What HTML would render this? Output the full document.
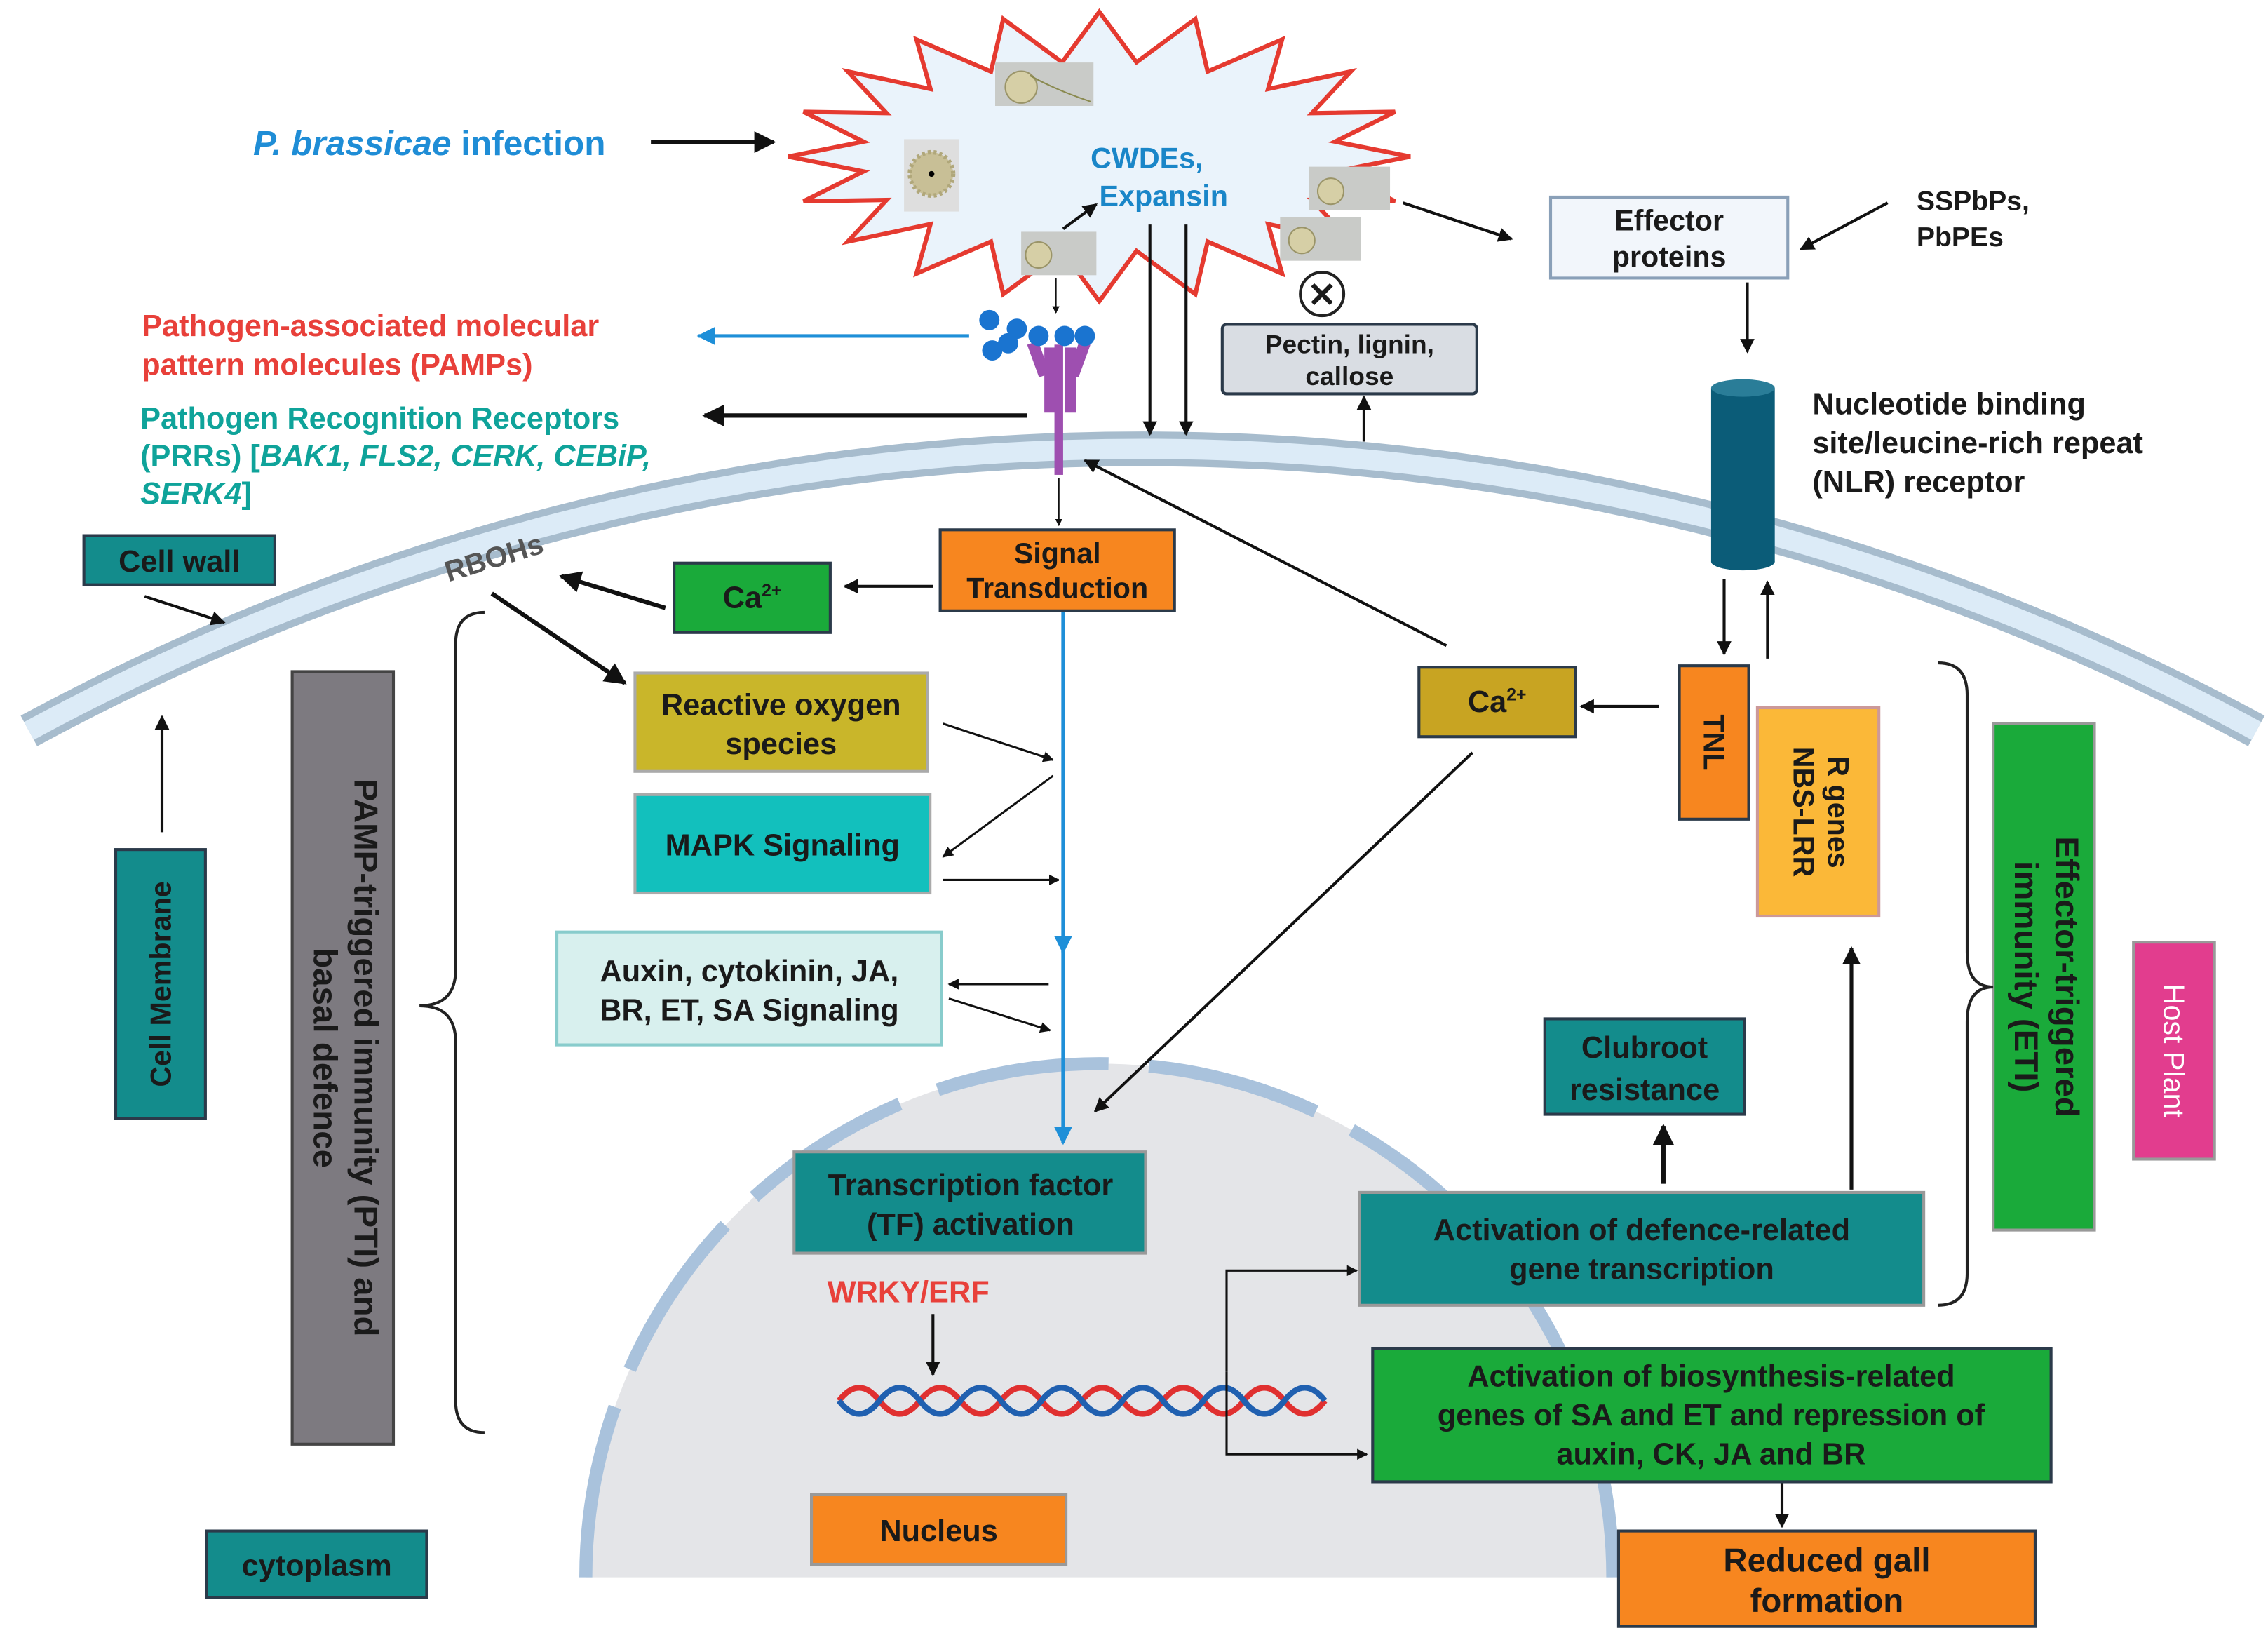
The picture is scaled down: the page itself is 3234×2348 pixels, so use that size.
<!DOCTYPE html>
<html><head><meta charset="utf-8"><style>
html,body{margin:0;padding:0;background:#fff}
svg{display:block}
text{font-family:"Liberation Sans",sans-serif;font-weight:bold;fill:#1a1a1a}
</style></head><body>
<svg width="3234" height="2348" viewBox="0 0 1568 1138" xmlns="http://www.w3.org/2000/svg">
<defs>
<marker id="a" viewBox="0 0 10 10" refX="9" refY="5" markerWidth="5" markerHeight="5" orient="auto"><path d="M0,0L10,5L0,10z" fill="#111"/></marker>
<marker id="b" viewBox="0 0 10 10" refX="9" refY="5" markerWidth="5" markerHeight="5" orient="auto"><path d="M0,0L10,5L0,10z" fill="#1e8fd8"/></marker>
</defs>
<rect width="1568" height="1138" fill="#fff"/>
<!-- nucleus -->
<path d="M405,1090 A355,355 0 0 1 1115,1090 Z" fill="#e4e5e8"/>
<path d="M405,1090 A355,355 0 0 1 1115,1090" fill="none" stroke="#a9c2dc" stroke-width="9" stroke-dasharray="120,28"/>
<!-- cell wall / membrane -->
<path d="M20,505 A1618,1618 0 0 1 1560,505" fill="none" stroke="#a7bccd" stroke-width="24"/>
<path d="M20,505 A1618,1618 0 0 1 1560,505" fill="none" stroke="#dcebf7" stroke-width="14"/>
<!-- starburst -->
<polygon points="760,8 785.7,42.8 826.4,12.9 834.9,49.2 886.4,27.1 876.7,61.3 933.9,49.2 907,78 964.5,77.1 923,97.7 975,108 923,118.3 964.5,138.9 907,138 933.9,166.8 876.7,154.7 886.4,188.9 834.9,166.8 826.4,203.1 785.7,173.2 760,208 734.3,173.2 693.6,203.1 685.1,166.8 633.6,188.9 643.3,154.7 586.1,166.8 613,138 555.5,138.9 597,118.3 545,108 597,97.7 555.5,77.1 613,78 586.1,49.2 643.3,61.3 633.6,27.1 685.1,49.2 693.6,12.9 734.3,42.8" fill="#eaf3fb" stroke="#e53a30" stroke-width="3" stroke-linejoin="miter"/>
<g>
<rect x="688" y="43" width="68" height="30" fill="#c9cbc8"/><circle cx="706" cy="60" r="11" fill="#d6cfa6" stroke="#9a9468"/><path d="M712,52 Q730,62 754,70" stroke="#8a8a50" fill="none"/>
<rect x="625" y="96" width="38" height="50" fill="#dedede"/><circle cx="644" cy="120" r="15" fill="#c8bf96" stroke="#b0a77a" stroke-dasharray="2,2" stroke-width="3"/><circle cx="644" cy="120" r="2" fill="#000"/>
<rect x="706" y="160" width="52" height="30" fill="#c9cbc8"/><circle cx="718" cy="176" r="9" fill="#d6cfa6" stroke="#9a9468"/>
<rect x="905" y="115" width="56" height="30" fill="#c9cbc8"/><circle cx="920" cy="132" r="9" fill="#d6cfa6" stroke="#9a9468"/>
<rect x="885" y="150" width="56" height="30" fill="#c9cbc8"/><circle cx="900" cy="166" r="9" fill="#d6cfa6" stroke="#9a9468"/>
</g>
<text x="754" y="116" font-size="20" style="fill:#1a86c8">CWDEs,</text>
<text x="760" y="142" font-size="20" style="fill:#1a86c8">Expansin</text>
<circle cx="914" cy="203" r="15" fill="#fff" stroke="#222" stroke-width="2"/><text x="914" y="212" font-size="24" text-anchor="middle">✕</text>
<!-- receptor -->
<g fill="#9e4fb0"><rect x="729" y="238" width="6" height="90"/><rect x="722" y="240" width="8" height="45"/><rect x="736" y="240" width="8" height="45"/><rect x="714" y="236" width="8" height="24" transform="rotate(-20 718 248)"/><rect x="742" y="236" width="8" height="24" transform="rotate(20 746 248)"/></g>
<g fill="#1a74d0"><circle cx="684" cy="221" r="7"/><circle cx="703" cy="227" r="7"/><circle cx="697" cy="237" r="7"/><circle cx="686" cy="242" r="7"/><circle cx="718" cy="232" r="7"/><circle cx="736" cy="232" r="7"/><circle cx="750" cy="232" r="7"/></g>
<!-- NLR -->
<rect x="1183" y="268" width="44" height="120" fill="#0b5c78"/><ellipse cx="1205" cy="268" rx="22" ry="6" fill="#2a7d98"/><ellipse cx="1205" cy="388" rx="22" ry="6" fill="#0b5c78"/>
<!-- texts -->
<text x="175" y="107" font-size="24" style="fill:#1f8dd6"><tspan font-style="italic">P. brassicae</tspan> infection</text>
<text x="98" y="232" font-size="21" style="fill:#e8403a">Pathogen-associated molecular</text>
<text x="98" y="259" font-size="21" style="fill:#e8403a">pattern molecules (PAMPs)</text>
<text x="97" y="296" font-size="21" style="fill:#0fa39a">Pathogen Recognition Receptors</text>
<text x="97" y="322" font-size="21" style="fill:#0fa39a">(PRRs)  [<tspan font-style="italic">BAK1, FLS2, CERK,  CEBiP,</tspan></text>
<text x="97" y="348" font-size="21" style="fill:#0fa39a" font-style="italic">SERK4<tspan font-style="normal">]</tspan></text>
<text x="1325" y="145" font-size="19">SSPbPs,</text><text x="1325" y="170" font-size="19">PbPEs</text>
<text x="1253" y="286" font-size="21">Nucleotide binding</text><text x="1253" y="313" font-size="21">site/leucine-rich repeat</text><text x="1253" y="340" font-size="21">(NLR) receptor</text>
<text x="310" y="402" font-size="20" style="fill:#555" transform="rotate(-17 310 402)">RBOHs</text>
<text x="572" y="900" font-size="21" style="fill:#e8403a">WRKY/ERF</text>
<!-- boxes -->
<g stroke="#2b3a4a" stroke-width="2">
<rect x="1072" y="136" width="164" height="56" fill="#f2f6fb" stroke="#8aa0b8"/>
<rect x="845" y="224" width="176" height="48" fill="#d9dde3" rx="3"/>
<rect x="58" y="370" width="132" height="34" fill="#138c8c"/>
<rect x="466" y="389" width="108" height="48" fill="#1aaa3a"/>
<rect x="650" y="366" width="162" height="56" fill="#f7861f"/>
<rect x="981" y="461" width="108" height="48" fill="#c8a422"/>
<rect x="1161" y="460" width="48" height="106" fill="#f7861f"/>
<rect x="1215" y="489" width="84" height="144" fill="#fbb838" stroke="#c99"/>
<rect x="439" y="465" width="202" height="68" fill="#c9b62a" stroke="#aaa"/>
<rect x="439" y="549" width="204" height="68" fill="#12c0bd" stroke="#aaa"/>
<rect x="385" y="644" width="266" height="78" fill="#d8f0ee" stroke="#8cc"/>
<rect x="202" y="464" width="70" height="534" fill="#7d7a80" stroke="#444"/>
<rect x="80" y="587" width="62" height="186" fill="#138c8c"/>
<rect x="1378" y="500" width="70" height="350" fill="#1aaa3a" stroke="#999"/>
<rect x="1475" y="651" width="56" height="150" fill="#e23d8e" stroke="#999"/>
<rect x="1068" y="704" width="138" height="66" fill="#138c8c"/>
<rect x="549" y="796" width="243" height="70" fill="#138c8c" stroke="#999"/>
<rect x="940" y="824" width="390" height="78" fill="#138c8c" stroke="#999"/>
<rect x="949" y="932" width="469" height="92" fill="#1aaa3a"/>
<rect x="561" y="1033" width="176" height="48" fill="#f7861f" stroke="#999"/>
<rect x="1119" y="1058" width="288" height="66" fill="#f7861f"/>
<rect x="143" y="1058" width="152" height="46" fill="#138c8c"/>
</g>
<g font-size="21" text-anchor="middle">
<text x="1154" y="159" font-size="20">Effector</text><text x="1154" y="184" font-size="20">proteins</text>
<text x="933" y="244" font-size="18">Pectin, lignin,</text><text x="933" y="266" font-size="18">callose</text>
<text x="124" y="395">Cell wall</text>
<text x="520" y="420">Ca<tspan font-size="12" dy="-8">2+</tspan></text>
<text x="731" y="389" font-size="20">Signal</text><text x="731" y="413" font-size="20">Transduction</text>
<text x="1035" y="492">Ca<tspan font-size="12" dy="-8">2+</tspan></text>
<text x="540" y="494">Reactive oxygen</text><text x="540" y="521">species</text>
<text x="541" y="591">MAPK Signaling</text>
<text x="518" y="678">Auxin, cytokinin, JA,</text><text x="518" y="705">BR, ET, SA Signaling</text>
<text x="1137" y="731">Clubroot</text><text x="1137" y="760">resistance</text>
<text x="671" y="826">Transcription factor</text><text x="671" y="853">(TF)  activation</text>
<text x="1135" y="857">Activation of defence-related</text><text x="1135" y="884">gene transcription</text>
<text x="1183" y="958">Activation of biosynthesis-related</text><text x="1183" y="985">genes of SA and ET and repression of</text><text x="1183" y="1012">auxin, CK, JA and BR</text>
<text x="649" y="1065">Nucleus</text>
<text x="1263" y="1086" font-size="23">Reduced gall</text><text x="1263" y="1114" font-size="23">formation</text>
<text x="219" y="1089">cytoplasm</text>
<text transform="translate(1178,513) rotate(90)" x="0" y="0" font-size="20" text-anchor="middle">TNL</text>
<text transform="translate(1262,561) rotate(90)" font-size="20"><tspan x="0" y="-2">R genes</tspan><tspan x="0" y="22">NBS-LRR</tspan></text>
<text transform="translate(237,731) rotate(90)" font-size="23"><tspan x="0" y="-8">PAMP-triggered immunity (PTI) and</tspan><tspan x="0" y="20">basal defence</tspan></text>
<text transform="translate(111,680) rotate(-90)" font-size="20" y="7">Cell Membrane</text>
<text transform="translate(1413,675) rotate(90)" font-size="23"><tspan x="0" y="-8">Effector-triggered</tspan><tspan x="0" y="20">immunity (ETI)</tspan></text>
<text transform="translate(1503,726) rotate(90)" font-size="20" y="7" style="fill:#fff;font-weight:normal">Host Plant</text>
</g>
<!-- braces -->
<path d="M335,423 Q315,423 315,445 L315,670 Q315,695 290,695 Q315,695 315,720 L315,968 Q315,990 335,990" fill="none" stroke="#222" stroke-width="2"/>
<path d="M1340,458 Q1360,458 1360,480 L1360,658 Q1360,682 1378,682 Q1360,682 1360,706 L1360,880 Q1360,902 1340,902" fill="none" stroke="#222" stroke-width="2"/>
<!-- DNA -->
<path d="M580,968 q14,-18 28,0 t28,0 t28,0 t28,0 t28,0 t28,0 t28,0 t28,0 t28,0 t28,0 t28,0 t28,0" fill="none" stroke="#e03030" stroke-width="4"/>
<path d="M580,968 q14,18 28,0 t28,0 t28,0 t28,0 t28,0 t28,0 t28,0 t28,0 t28,0 t28,0 t28,0 t28,0" fill="none" stroke="#2060b0" stroke-width="4"/>
<!-- arrows -->
<g stroke="#111" stroke-width="2" fill="none" marker-end="url(#a)">
<line x1="450" y1="98" x2="535" y2="98" stroke-width="3"/>
<line x1="970" y1="140" x2="1045" y2="165"/>
<line x1="1305" y1="140" x2="1245" y2="172"/>
<line x1="1208" y1="195" x2="1208" y2="243"/>
<line x1="710" y1="287" x2="487" y2="287" stroke-width="3"/>
<line x1="795" y1="155" x2="795" y2="300"/>
<line x1="820" y1="155" x2="820" y2="300"/>
<line x1="735" y1="158" x2="758" y2="141"/>
<line x1="730" y1="192" x2="730" y2="216" stroke-width="1"/>
<line x1="943" y1="305" x2="943" y2="274"/>
<line x1="732" y1="330" x2="732" y2="363" stroke-width="1"/>
<line x1="645" y1="405" x2="584" y2="405"/>
<line x1="460" y1="420" x2="388" y2="398" stroke-width="3"/>
<line x1="340" y1="410" x2="432" y2="472" stroke-width="3"/>
<line x1="100" y1="412" x2="155" y2="430"/>
<line x1="112" y1="575" x2="112" y2="495"/>
<line x1="1000" y1="446" x2="750" y2="318"/>
<line x1="1147" y1="488" x2="1093" y2="488"/>
<line x1="1192" y1="400" x2="1192" y2="452"/>
<line x1="1222" y1="455" x2="1222" y2="402"/>
<line x1="1018" y1="520" x2="757" y2="768"/>
<line x1="652" y1="500" x2="728" y2="525" stroke-width="1.5"/>
<line x1="728" y1="536" x2="652" y2="592" stroke-width="1.5"/>
<line x1="652" y1="608" x2="732" y2="608" stroke-width="1.5"/>
<line x1="725" y1="680" x2="656" y2="680" stroke-width="1.5"/>
<line x1="656" y1="690" x2="726" y2="712" stroke-width="1.5"/>
<line x1="1150" y1="818" x2="1150" y2="778" stroke-width="3"/>
<line x1="1280" y1="822" x2="1280" y2="655" stroke-width="2.5"/>
<polyline points="848,948 848,878 938,878" stroke-width="1.5"/>
<polyline points="848,948 848,1005 945,1005" stroke-width="1.5"/>
<line x1="645" y1="908" x2="645" y2="950"/>
<line x1="1232" y1="1025" x2="1232" y2="1055"/>
</g>
<g stroke="#1e8fd8" stroke-width="2.5" fill="none" marker-end="url(#b)">
<line x1="670" y1="232" x2="483" y2="232"/>
<line x1="735" y1="423" x2="735" y2="658"/>
<line x1="735" y1="650" x2="735" y2="790"/>
</g>
</svg>
</body></html>
